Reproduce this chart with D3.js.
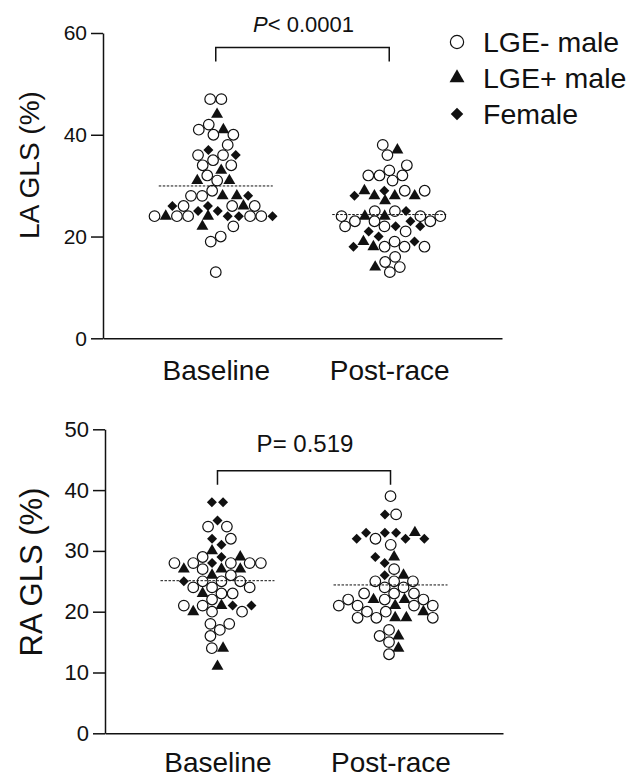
<!DOCTYPE html>
<html>
<head>
<meta charset="utf-8">
<script src="https://cdn.jsdelivr.net/npm/d3@7"></script>
<style>
  body { margin: 0; background: #fff; }
  svg { font-family: "Liberation Sans", Arial, sans-serif; }
</style>
</head>
<body>
<svg id="chart" width="636" height="779"></svg>
<script>
// categories on the x axis
const timepoints = ["Baseline", "Post-race"];
// marker groups: c = LGE- male, t = LGE+ male, d = female
const groupLabels = { c: "LGE- male", t: "LGE+ male", d: "Female" };

// LA GLS (%), read top to bottom, left to right
const laBaseVals = [47,47,44,42,41,41,40,40,38,37,36,36,36,35,34,34,33,32,31,31,31,29,
  28,28,28,28,28,26,26,26,26,26,26,25,25,24,24,24,24,24,24,24,24,24,24,22,22,20,19,13];
const laBaseGrp = ["c","c","t","c","c","t","c","c","c","d","c","c","d","c","c","c","t","c","t","c","t","c",
  "c","c","t","t","d","d","c","d","c","t","c","d","d","c","t","c","c","t","d","d","c","c","d","t","c","c","c","c"];
const laPostVals = [38,37,36,34,33,32,32,32,31,29,29,29,29,28,28,28,28,27,25,25,25,
  24,24,24,24,24,23,23,23,23,22,22,22,22,21,21,20,19,19,19,18,18,18,18,18,16,15,14,14,13];
const laPostGrp = ["c","t","c","c","c","c","c","c","c","t","d","c","c","d","t","t","t","t","c","c","d",
  "c","t","t","c","c","c","c","d","c","c","c","d","d","d","c","d","t","c","d","d","t","c","c","c","c","c","t","c","c"];

// RA GLS (%)
const raBaseVals = [38,38,35,34,34,32,32,31,30,29,29,29,28,28,28,28,28,28,27,27,27,27,26,26,
  25,25,25,25,24,24,24,23,23,23,22,21,21,21,21,21,20,20,20,18,18,17,16,14,14,11];
const raBaseGrp = ["d","d","d","c","c","d","c","d","t","c","d","t","c","c","d","c","c","c","t","c","t","t","t","c",
  "d","c","c","c","c","c","c","t","c","c","c","c","c","t","d","d","t","c","c","c","c","c","c","c","t","t"];
const raPostVals = [39,36,36,33,33,33,33,32,32,32,32,31,29,29,28,27,26,26,25,25,25,24,24,23,23,23,
  22,22,22,22,22,21,21,21,21,21,20,20,20,19,19,19,19,19,17,16,16,15,14,13];
const raPostGrp = ["c","d","c","d","d","d","t","d","c","d","d","c","d","t","d","c","d","t","c","c","c","c","c","c","c","c",
  "c","t","c","t","c","c","c","t","c","c","c","c","t","c","c","t","t","c","c","c","t","c","t","c"];

const svg = d3.select("#chart");
const ink = "#111";

function marker(sel, grp, s) {
  if (grp === "c") {
    sel.append("circle").attr("r", 5.3 * s).attr("fill", "#fff")
      .attr("stroke", ink).attr("stroke-width", 1.2);
  } else if (grp === "t") {
    sel.append("path").attr("d", d3.symbol(d3.symbolTriangle, 62 * s * s)()).attr("fill", ink);
  } else {
    sel.append("path").attr("d", d3.symbol(d3.symbolSquare, 50 * s * s)())
      .attr("transform", "rotate(45)").attr("fill", ink);
  }
}

// beeswarm offsets: rows start centred, then a small force run removes overlaps
function swarm(vals, y, r) {
  const nodes = vals.map(v => ({ x: 0, y: y(v), fy: y(v) }));
  d3.group(d3.range(vals.length), i => vals[i]).forEach(ids => {
    ids.forEach((i, k) => nodes[i].x = (k - (ids.length - 1) / 2) * 2 * r);
  });
  const sim = d3.forceSimulation(nodes)
    .force("x", d3.forceX(0).strength(0.05))
    .force("collide", d3.forceCollide(r).iterations(4))
    .stop();
  for (let t = 0; t < 300; t++) sim.tick();
  const xs = nodes.map(n => n.x);
  d3.group(d3.range(vals.length), i => vals[i]).forEach(ids => {
    const sorted = ids.map(i => xs[i]).sort((a, b) => a - b);
    ids.forEach((i, k) => xs[i] = sorted[k]);
  });
  return xs;
}

function drawPanel(cfg) {
  const g = svg.append("g");

  const scY = d3.scaleLinear().domain([0, cfg.max]).range([cfg.bottom, cfg.top]);
  const scX = d3.scalePoint().domain(timepoints).range([cfg.left, cfg.right]).padding(0.65);

  const axY = g.append("g")
    .attr("transform", `translate(${cfg.left}, 0)`)
    .call(d3.axisLeft(scY).tickValues(cfg.ticks).tickSize(12).tickPadding(4).tickSizeOuter(0));
  axY.selectAll("text").style("font-size", cfg.tickFont + "px").attr("fill", ink);

  const axX = g.append("g")
    .attr("transform", `translate(0, ${cfg.bottom})`)
    .call(d3.axisBottom(scX).tickSize(0).tickPadding(cfg.catPad).tickSizeOuter(0));
  axX.selectAll("text").style("font-size", "28px").attr("fill", ink);

  g.selectAll(".domain, .tick line").attr("stroke", ink).attr("stroke-width", 1.5);

  g.append("text")
    .attr("transform", `translate(${cfg.titleX}, ${cfg.titleY}) rotate(-90)`)
    .attr("text-anchor", "middle")
    .attr("dominant-baseline", "central")
    .style("font-size", cfg.titleFont + "px")
    .attr("fill", ink)
    .text(cfg.title);

  cfg.series.forEach((s, k) => {
    const cx = scX(timepoints[k]);
    const xs = swarm(s.vals, scY, 5.6);
    s.vals.forEach((v, i) => {
      const m = g.append("g").attr("transform", `translate(${cx + xs[i]}, ${scY(v)})`);
      marker(m, s.grp[i], 1);
    });
    // mean line
    const mean = d3.mean(s.vals);
    g.append("line")
      .attr("x1", cx - 57).attr("x2", cx + 57)
      .attr("y1", scY(mean)).attr("y2", scY(mean))
      .attr("stroke", ink).attr("stroke-width", 1).attr("stroke-dasharray", "2.5,1.5");
  });

  // significance bracket
  const x0 = scX(timepoints[0]), x1 = scX(timepoints[1]);
  g.append("path")
    .attr("d", `M${x0},${cfg.bracketY + 14}V${cfg.bracketY}H${x1}V${cfg.bracketY + 14}`)
    .attr("fill", "none").attr("stroke", ink).attr("stroke-width", 1.5);
  const pt = g.append("text")
    .attr("x", (x0 + x1) / 2 + 1).attr("y", cfg.pY)
    .attr("text-anchor", "middle")
    .style("font-size", cfg.pFont + "px")
    .attr("fill", ink);
  pt.append("tspan").style("font-style", cfg.pItalic ? "italic" : "normal").text("P");
  pt.append("tspan").text(cfg.pText);
}

drawPanel({
  top: 33, bottom: 338.3, left: 103, right: 502, max: 60, ticks: [0, 20, 40, 60],
  tickFont: 21, title: "LA GLS (%)", titleFont: 28, titleX: 29, titleY: 165, catPad: 22,
  bracketY: 47.5, pY: 32, pFont: 22, pItalic: true, pText: "< 0.0001",
  series: [{ vals: laBaseVals, grp: laBaseGrp }, { vals: laPostVals, grp: laPostGrp }]
});

drawPanel({
  top: 429.3, bottom: 733.3, left: 105, right: 503, max: 50, ticks: [0, 10, 20, 30, 40, 50],
  tickFont: 22, title: "RA GLS (%)", titleFont: 31, titleX: 31, titleY: 572, catPad: 19,
  bracketY: 470.7, pY: 452, pFont: 24, pItalic: false, pText: "= 0.519",
  series: [{ vals: raBaseVals, grp: raBaseGrp }, { vals: raPostVals, grp: raPostGrp }]
});

// legend
const legend = svg.append("g");
["c", "t", "d"].forEach((k, i) => {
  const row = legend.append("g").attr("transform", `translate(457, ${42 + i * 36})`);
  marker(row, k, 1.25);
  row.append("text").attr("x", 26).attr("dominant-baseline", "central")
    .style("font-size", "28.5px").attr("fill", ink).text(groupLabels[k]);
});
</script>
</body>
</html>
